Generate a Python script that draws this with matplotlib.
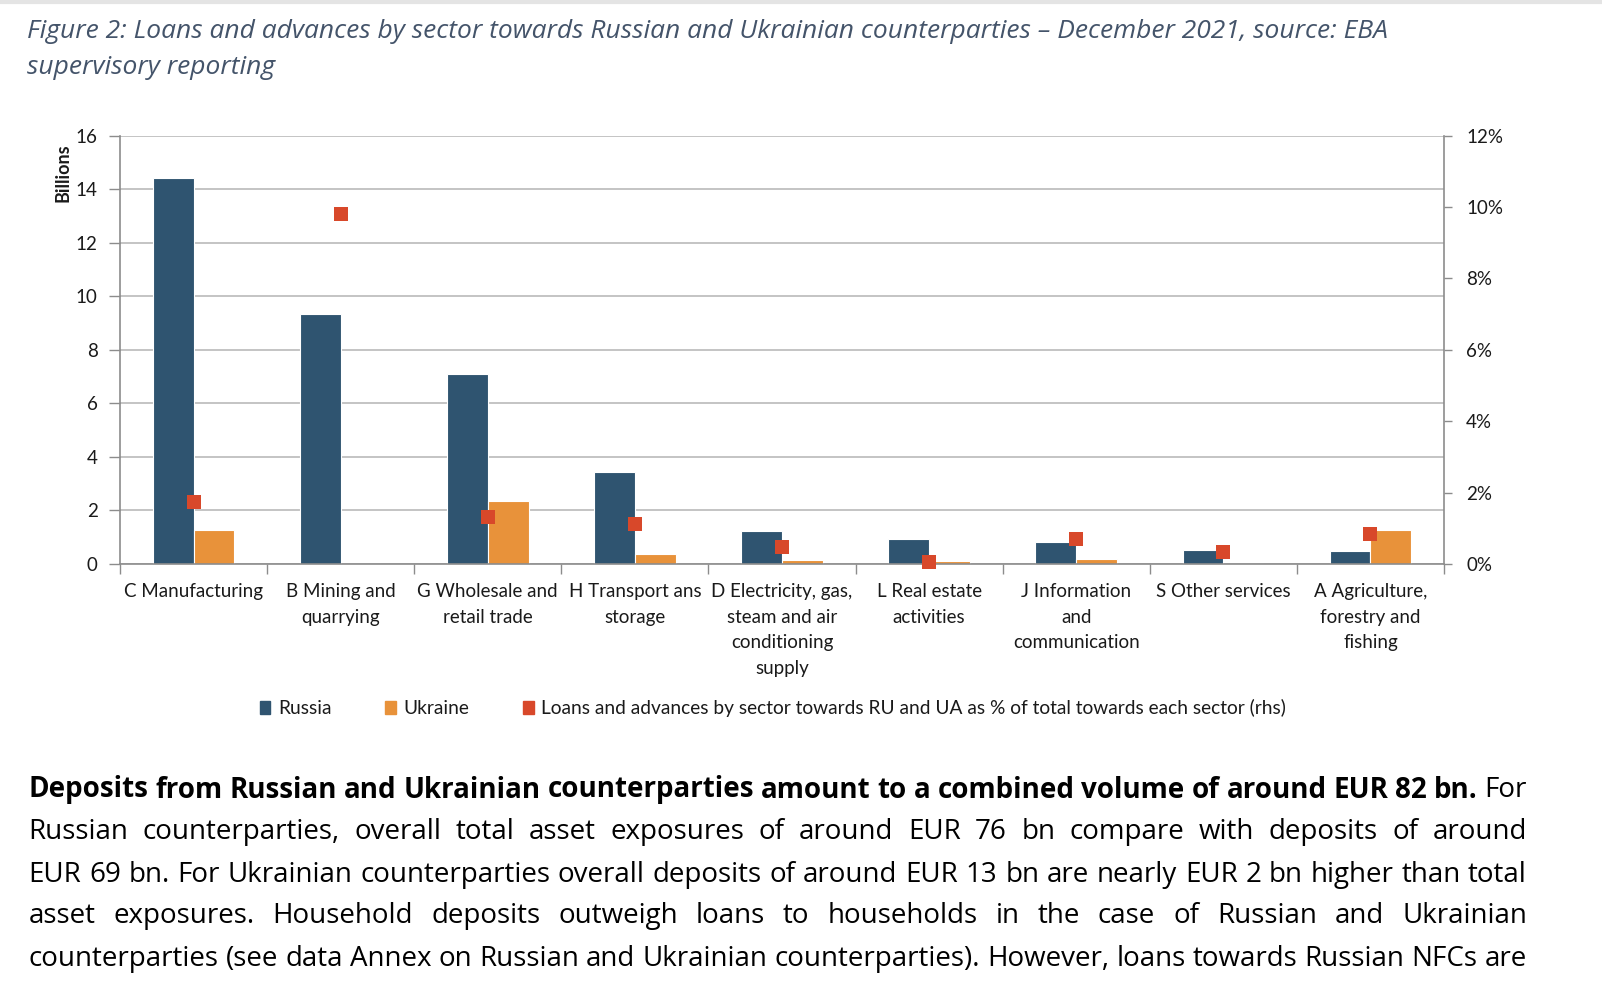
import matplotlib
matplotlib.use('Agg')
import matplotlib.pyplot as plt
import numpy as np
from matplotlib.patches import Patch

plt.rcParams['font.family'] = ['Lato', 'DejaVu Sans']

# data
sectors = ["C Manufacturing", "B Mining and\nquarrying", "G Wholesale and\nretail trade",
           "H Transport ans\nstorage", "D Electricity, gas,\nsteam and air\nconditioning\nsupply",
           "L Real estate\nactivities", "J Information\nand\ncommunication", "S Other services",
           "A Agriculture,\nforestry and\nfishing"]
russia = [14.4, 9.35, 7.08, 3.42, 1.25, 0.92, 0.84, 0.53, 0.49]
ukraine = [1.28, 0.0, 2.36, 0.36, 0.15, 0.11, 0.20, 0.0, 1.27]
share_pct = [1.75, 9.8, 1.31, 1.13, 0.47, 0.05, 0.71, 0.35, 0.85]

legend_labels = ["Russia", "Ukraine",
                 "Loans and advances by sector towards RU and UA as % of total towards each sector (rhs)"]

title_lines = ["Figure 2: Loans and advances by sector towards Russian and Ukrainian counterparties \u2013 December 2021, source: EBA",
               "supervisory reporting"]

body_lines = [
    [("Deposits from Russian and Ukrainian counterparties amount to a combined volume of around EUR 82 bn.", "bold"), ("For", "normal")],
    [("Russian counterparties, overall total asset exposures of around EUR 76 bn compare with deposits of around", "normal")],
    [("EUR 69 bn. For Ukrainian counterparties overall deposits of around EUR 13 bn are nearly EUR 2 bn higher than total", "normal")],
    [("asset exposures. Household deposits outweigh loans to households in the case of Russian and Ukrainian", "normal")],
    [("counterparties (see data Annex on Russian and Ukrainian counterparties). However, loans towards Russian NFCs are", "normal")],
]

c_ru = '#2F5470'
c_ua = '#E8923A'
c_sh = '#D8482A'
grid_c = '#BFBFBF'
axis_c = '#8C8C8C'
txt_c = '#1A1A1A'

W, H = 1602, 1008
fig = plt.figure(figsize=(W / 100, H / 100), dpi=100)
ax = fig.add_axes([120 / W, 1 - 564 / H, (1444 - 120) / W, (564 - 135.5) / H])

x = np.arange(len(sectors))
bw = 0.277
ax.bar(x - bw / 2, russia, bw, color=c_ru, edgecolor='white', linewidth=0.8, zorder=2)
ax.bar(x + bw / 2, ukraine, bw, color=c_ua, edgecolor='white', linewidth=0.8, zorder=2)
ax.set_xlim(-0.5, len(sectors) - 0.5)
ax.set_ylim(0, 16)
ax.set_yticks(range(0, 17, 2))
ax.yaxis.grid(True, color=grid_c, lw=1.3)
ax.set_axisbelow(True)

ax.set_xticks(x)
ax.set_xticklabels(sectors, fontsize=13.5, color=txt_c, linespacing=1.6, va='top')
ax.set_xticks(np.arange(-0.5, len(sectors), 1), minor=True)
ax.tick_params(axis='x', which='major', length=0, pad=14)
ax.tick_params(axis='x', which='minor', length=7, direction='out', color=axis_c, width=1)
ax.tick_params(axis='y', direction='out', length=8, width=1, color=axis_c,
               labelsize=13.5, labelcolor=txt_c, pad=8)

for s in ['top', 'right']:
    ax.spines[s].set_visible(False)
for s in ['left', 'bottom']:
    ax.spines[s].set_color(axis_c)
    ax.spines[s].set_linewidth(1.2)

ax.text(-0.043, 0.982, "Billions", transform=ax.transAxes, rotation=90, ha='center', va='top',
        fontsize=13, fontweight='bold', color=txt_c)

ax2 = ax.twinx()
ax2.scatter(x, share_pct, marker='s', s=90, color=c_sh, zorder=3, clip_on=False, linewidths=0)
ax2.set_ylim(0, 12)
ax2.set_yticks(range(0, 13, 2))
ax2.set_yticklabels([f"{v}%" for v in range(0, 13, 2)])
ax2.tick_params(axis='y', direction='out', length=6, width=1, color=axis_c,
                labelsize=13.5, labelcolor=txt_c, pad=10)
for s in ['top', 'left', 'bottom']:
    ax2.spines[s].set_visible(False)
ax2.spines['right'].set_color(axis_c)
ax2.spines['right'].set_linewidth(1.2)

handles = [Patch(color=c_ru), Patch(color=c_ua), Patch(color=c_sh)]
fig.legend(handles, legend_labels, loc='center', bbox_to_anchor=(773 / W, 1 - 708 / H), ncol=3,
           frameon=False, handlelength=0.55, handleheight=0.7, handletextpad=0.4,
           columnspacing=2.8, fontsize=13.8, labelcolor=txt_c)

# title
fig.text(27 / W, 1 - 31 / H, title_lines[0], style='italic', color='#44546A', va='center',
         fontsize=19, family=['Open Sans', 'DejaVu Sans'])
fig.text(27 / W, 1 - 67 / H, title_lines[1], style='italic', color='#44546A', va='center',
         fontsize=19, family=['Open Sans', 'DejaVu Sans'])

# thin page edge at the top
fig.add_artist(plt.Line2D([0, 1], [1 - 1.5 / H, 1 - 1.5 / H], color='#E4E4E4', lw=3))

# justified paragraph
body_y = [790, 832, 875, 916, 959]
x0, x1 = 28.5, 1527
renderer = fig.canvas.get_renderer()
for line, yy in zip(body_lines, body_y):
    words = []
    for chunk, wt in line:
        for w in chunk.split(' '):
            words.append((w, wt))
    texts = [fig.text(0, 1 - yy / H, w, fontsize=20, fontweight=wt, va='center', ha='left',
                      color='black', family=['Open Sans', 'DejaVu Sans'])
             for w, wt in words]
    widths = [t.get_window_extent(renderer).width for t in texts]
    gap = (x1 - x0 - sum(widths)) / (len(words) - 1)
    pos = x0
    for t, wd in zip(texts, widths):
        t.set_x(pos / W)
        pos += wd + gap

fig.savefig('out.png', dpi=100)
